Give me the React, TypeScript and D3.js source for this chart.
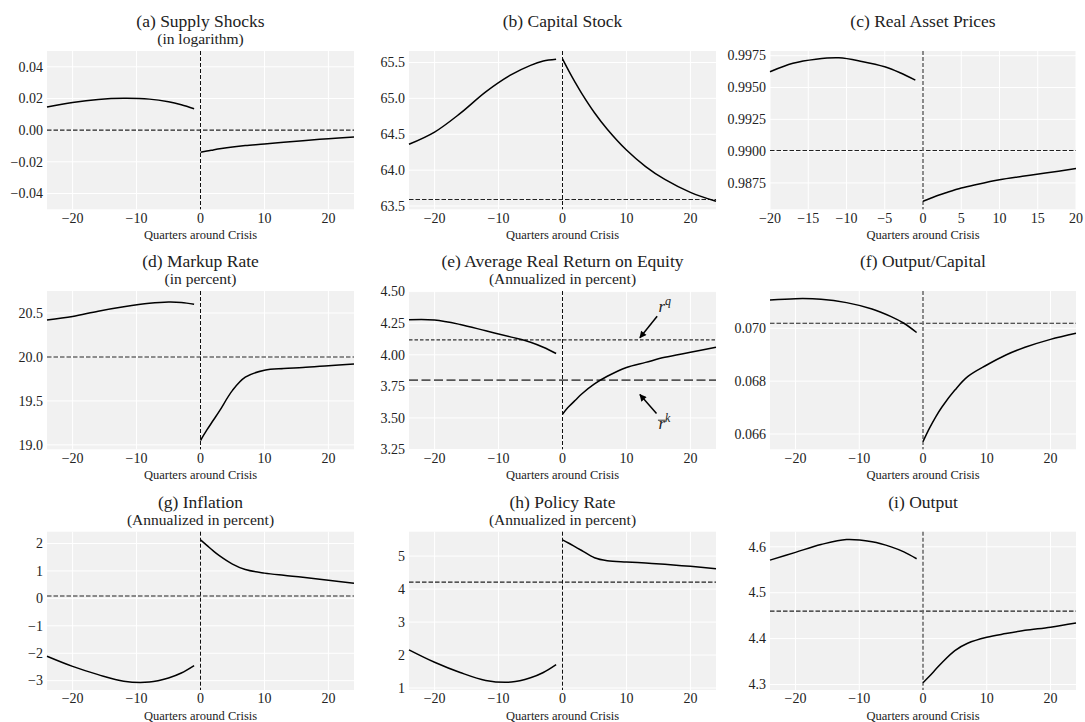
import React from 'react';
import * as d3 from 'd3';

const preQ = [-24, -20, -16, -12, -8, -5, -3, -1];
const postQ = [0, 1, 2, 3, 5, 7, 10, 13, 16, 20, 24];
const preQc = [-20, -17, -14, -11, -8, -5, -3, -1];
const postQc = [0, 1, 2, 3, 5, 7, 10, 13, 16, 20];

const xTicksMain = [-20, -10, 0, 10, 20];
const xTicksC = [-20, -15, -10, -5, 0, 5, 10, 15, 20];

// (a) Supply shocks
const supplyPre = [0.0146, 0.0175, 0.0194, 0.0201, 0.0196, 0.0179, 0.0160, 0.0135];
const supplyPost = [-0.0140, -0.0132, -0.0125, -0.0118, -0.0106, -0.0097, -0.0088, -0.0077, -0.0067, -0.0054, -0.0043];
const supplySS = 0.0;
const supplyTicks = [-0.04, -0.02, 0.0, 0.02, 0.04];

// (b) Capital stock
const capitalPre = [64.36, 64.53, 64.79, 65.09, 65.33, 65.46, 65.52, 65.545];
const capitalPost = [65.55, 65.38, 65.22, 65.07, 64.80, 64.57, 64.28, 64.05, 63.87, 63.69, 63.565];
const capitalSS = 63.59;
const capitalTicks = [63.5, 64.0, 64.5, 65.0, 65.5];

// (c) Real asset prices
const assetPre = [0.99624, 0.99690, 0.99722, 0.99733, 0.99705, 0.99663, 0.99616, 0.99558];
const assetPost = [0.98606, 0.98630, 0.98653, 0.98673, 0.98710, 0.98738, 0.98775, 0.98802, 0.98828, 0.98863];
const assetSS = 0.99005;
const assetTicks = [0.9875, 0.99, 0.9925, 0.995, 0.9975];

// (d) Markup rate
const markupPre = [20.42, 20.46, 20.52, 20.57, 20.61, 20.625, 20.62, 20.60];
const markupPost = [19.05, 19.17, 19.28, 19.39, 19.62, 19.77, 19.85, 19.87, 19.88, 19.90, 19.92];
const markupSS = 20.0;
const markupTicks = [19.0, 19.5, 20.0, 20.5];

// (e) Average real return on equity
const equityPre = [4.277, 4.275, 4.24, 4.19, 4.14, 4.10, 4.06, 4.01];
const equityPost = [3.53, 3.59, 3.64, 3.69, 3.77, 3.83, 3.90, 3.94, 3.98, 4.02, 4.06];
const equityRq = 4.118;
const equityRk = 3.80;
const equityTicks = [3.25, 3.5, 3.75, 4.0, 4.25, 4.5];

// (f) Output / capital
const ykPre = [0.07107, 0.07112, 0.07110, 0.07097, 0.07073, 0.07044, 0.07019, 0.06984];
const ykPost = [0.06571, 0.06621, 0.06665, 0.06703, 0.06766, 0.06817, 0.06861, 0.06899, 0.06928, 0.06958, 0.06981];
const ykSS = 0.07019;
const ykTicks = [0.066, 0.068, 0.07];

// (g) Inflation
const inflPre = [-2.11, -2.48, -2.78, -3.02, -3.05, -2.90, -2.72, -2.45];
const inflPost = [2.13, 1.93, 1.73, 1.55, 1.25, 1.05, 0.92, 0.84, 0.77, 0.66, 0.55];
const inflSS = 0.085;
const inflTicks = [-3, -2, -1, 0, 1, 2];

// (h) Policy rate
const policyPre = [2.157, 1.78, 1.47, 1.23, 1.18, 1.31, 1.47, 1.71];
const policyPost = [5.49, 5.39, 5.28, 5.17, 4.95, 4.86, 4.82, 4.79, 4.75, 4.69, 4.62];
const policySS = 4.21;
const policyTicks = [1, 2, 3, 4, 5];

// (i) Output
const outputPre = [4.571, 4.588, 4.605, 4.616, 4.611, 4.600, 4.589, 4.574];
const outputPost = [4.304, 4.318, 4.333, 4.348, 4.374, 4.390, 4.403, 4.411, 4.418, 4.425, 4.434];
const outputSS = 4.46;
const outputTicks = [4.3, 4.4, 4.5, 4.6];

const FONT = "'Liberation Serif', 'Times New Roman', serif";

type Panel = {
  title: string;
  subtitle?: string;
  preX: number[];
  pre: number[];
  postX: number[];
  post: number[];
  ss: number[];
  yTicks: number[];
  yDomain: [number, number];
  fmt: string;
  xDomain: [number, number];
  xTicks: number[];
  grayV: boolean;
};

const panels: Panel[] = [
  { title: '(a) Supply Shocks', subtitle: '(in logarithm)', preX: preQ, pre: supplyPre, postX: postQ, post: supplyPost, ss: [supplySS], yTicks: supplyTicks, yDomain: [-0.05, 0.05], fmt: '.2f', xDomain: [-24, 24], xTicks: xTicksMain, grayV: false },
  { title: '(b) Capital Stock', preX: preQ, pre: capitalPre, postX: postQ, post: capitalPost, ss: [capitalSS], yTicks: capitalTicks, yDomain: [63.454, 65.66], fmt: '.1f', xDomain: [-24, 24], xTicks: xTicksMain, grayV: false },
  { title: '(c) Real Asset Prices', preX: preQc, pre: assetPre, postX: postQc, post: assetPost, ss: [assetSS], yTicks: assetTicks, yDomain: [0.98543, 0.99787], fmt: '.4f', xDomain: [-20, 20], xTicks: xTicksC, grayV: true },
  { title: '(d) Markup Rate', subtitle: '(in percent)', preX: preQ, pre: markupPre, postX: postQ, post: markupPost, ss: [markupSS], yTicks: markupTicks, yDomain: [18.95, 20.75], fmt: '.1f', xDomain: [-24, 24], xTicks: xTicksMain, grayV: false },
  { title: '(e) Average Real Return on Equity', subtitle: '(Annualized in percent)', preX: preQ, pre: equityPre, postX: postQ, post: equityPost, ss: [], yTicks: equityTicks, yDomain: [3.252, 4.505], fmt: '.2f', xDomain: [-24, 24], xTicks: xTicksMain, grayV: false },
  { title: '(f) Output/Capital', preX: preQ, pre: ykPre, postX: postQ, post: ykPost, ss: [ykSS], yTicks: ykTicks, yDomain: [0.06542, 0.07141], fmt: '.3f', xDomain: [-24, 24], xTicks: xTicksMain, grayV: true },
  { title: '(g) Inflation', subtitle: '(Annualized in percent)', preX: preQ, pre: inflPre, postX: postQ, post: inflPost, ss: [inflSS], yTicks: inflTicks, yDomain: [-3.34, 2.43], fmt: 'd', xDomain: [-24, 24], xTicks: xTicksMain, grayV: false },
  { title: '(h) Policy Rate', subtitle: '(Annualized in percent)', preX: preQ, pre: policyPre, postX: postQ, post: policyPost, ss: [policySS], yTicks: policyTicks, yDomain: [0.94, 5.74], fmt: 'd', xDomain: [-24, 24], xTicks: xTicksMain, grayV: false },
  { title: '(i) Output', preX: preQ, pre: outputPre, postX: postQ, post: outputPost, ss: [outputSS], yTicks: outputTicks, yDomain: [4.288, 4.633], fmt: '.1f', xDomain: [-24, 24], xTicks: xTicksMain, grayV: true },
];

const colLeft = [47, 409, 770];
const colWidth = [307, 307, 306];
const rowTop = [51, 291, 531.7];
const plotH = 158.3;

function PanelView({ p, idx }: { p: Panel; idx: number }) {
  const col = idx % 3;
  const row = Math.floor(idx / 3);
  const L = colLeft[col];
  const T = rowTop[row];
  const W = colWidth[col];
  const x = d3.scaleLinear().domain(p.xDomain).range([L, L + W]);
  const y = d3.scaleLinear().domain(p.yDomain).range([T + plotH, T]);
  const f = d3.format(p.fmt);
  const line = d3.line<[number, number]>().x(d => x(d[0])).y(d => y(d[1])).curve(d3.curveCatmullRom.alpha(0.5));
  const preD = line(p.preX.map((q, i) => [q, p.pre[i]] as [number, number])) || '';
  const postD = line(p.postX.map((q, i) => [q, p.post[i]] as [number, number])) || '';
  const cx = L + W / 2;
  const isE = idx === 4;
  return (
    <g>
      <rect x={L} y={T} width={W} height={plotH} fill="#f1f1f1" />
      {p.xTicks.map(t => (
        <line key={'gx' + t} x1={x(t)} x2={x(t)} y1={T} y2={T + plotH} stroke="#ffffff" strokeWidth={1} />
      ))}
      {p.yTicks.map(t => (
        <line key={'gy' + t} x1={L} x2={L + W} y1={y(t)} y2={y(t)} stroke="#ffffff" strokeWidth={1} />
      ))}
      {p.ss.map((v, i) => (
        <line key={'ss' + i} x1={L} x2={L + W} y1={y(v)} y2={y(v)} stroke="#222" strokeWidth={1.1} strokeDasharray="4.5,2" />
      ))}
      {isE && (
        <g>
          <line x1={L} x2={L + W} y1={y(equityRq)} y2={y(equityRq)} stroke="#333" strokeWidth={1.1} strokeDasharray="3.5,2" />
          <line x1={L} x2={L + W} y1={y(equityRk)} y2={y(equityRk)} stroke="#555" strokeWidth={1.8} strokeDasharray="9,3.5" />
        </g>
      )}
      <line x1={x(0)} x2={x(0)} y1={T} y2={T + plotH}
        stroke={p.grayV ? '#6e6e6e' : '#111'} strokeWidth={p.grayV ? 1.6 : 1.0} strokeDasharray="4,2" />
      <path d={preD} fill="none" stroke="#000" strokeWidth={1.5} />
      <path d={postD} fill="none" stroke="#000" strokeWidth={1.5} />
      {isE && (
        <g>
          <line x1={x(14.8)} y1={y(4.305)} x2={x(12.1)} y2={y(4.135)} stroke="#000" strokeWidth={1.5} markerEnd="url(#ah)" />
          <text x={x(15)} y={y(4.335)} fontFamily={FONT} fontStyle="italic" fontSize={17} fill="#222">r<tspan dy={-7} fontSize={12}>q</tspan></text>
          <line x1={x(14.7)} y1={y(3.535)} x2={x(12.1)} y2={y(3.685)} stroke="#000" strokeWidth={1.5} markerEnd="url(#ah)" />
          <text x={x(15)} y={y(3.415)} fontFamily={FONT} fontStyle="italic" fontSize={17} fill="#222">r<tspan dy={-7} fontSize={12}>k</tspan></text>
          <line x1={x(15) - 0.5} x2={x(15) + 7} y1={y(3.415) - 8.5} y2={y(3.415) - 8.5} stroke="#222" strokeWidth={0.9} />
        </g>
      )}
      {p.yTicks.map(t => (
        <text key={'ty' + t} x={L - 4} y={y(t)} dy="0.34em" textAnchor="end" fontFamily={FONT} fontSize={14} fill="#222">{f(t)}</text>
      ))}
      {p.xTicks.map(t => (
        <text key={'tx' + t} x={x(t)} y={T + plotH + 13.4} textAnchor="middle" fontFamily={FONT} fontSize={14} fill="#222">{d3.format('d')(t)}</text>
      ))}
      <text x={cx} y={T + plotH + 30} textAnchor="middle" fontFamily={FONT} fontSize={12.5} fill="#222">Quarters around Crisis</text>
      <text x={cx} y={T - 24} textAnchor="middle" fontFamily={FONT} fontSize={17.5} fill="#222">{p.title}</text>
      {p.subtitle && (
        <text x={cx} y={T - 7} textAnchor="middle" fontFamily={FONT} fontSize={15.5} fill="#222">{p.subtitle}</text>
      )}
    </g>
  );
}

export default function App() {
  return (
    <svg width={1085} height={722} style={{ position: 'absolute', left: 0, top: 0, background: '#fff' }}>
      <defs>
        <marker id="ah" viewBox="0 0 10 10" refX="9" refY="5" markerWidth="8" markerHeight="7" markerUnits="userSpaceOnUse" orient="auto">
          <path d="M0,0 L10,5 L0,10 z" fill="#000" />
        </marker>
      </defs>
      <rect x={0} y={0} width={1085} height={722} fill="#fff" />
      {panels.map((p, i) => <PanelView key={i} p={p} idx={i} />)}
    </svg>
  );
}
